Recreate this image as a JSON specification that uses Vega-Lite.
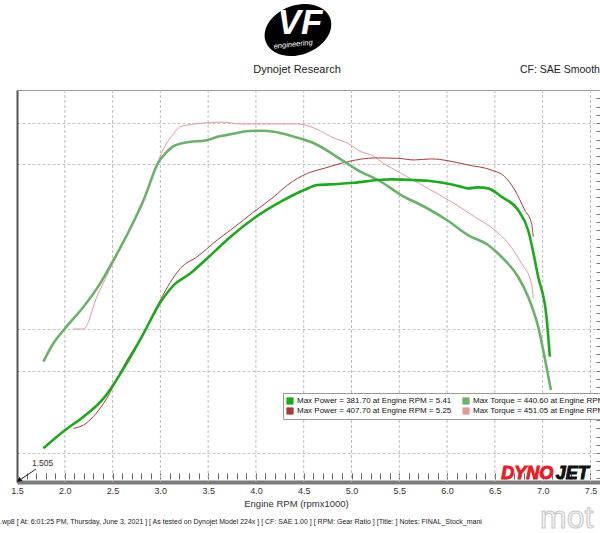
{
  "$schema": "https://vega.github.io/schema/vega-lite/v6.json",
  "width": 583,
  "height": 392,
  "autosize": "none",
  "padding": {"left": 17, "top": 90, "right": 0, "bottom": 51},
  "background": "white",
  "config": {
    "font": "Liberation Sans",
    "view": {"stroke": "#9a9a9a", "strokeWidth": 1}
  },
  "resolve": {"axis": {"x": "independent", "y": "independent"}},
  "datasets": {
    "gridx": [{"g": 2.0}, {"g": 2.5}, {"g": 3.0}, {"g": 3.5}, {"g": 4.0}, {"g": 4.5}, {"g": 5.0}, {"g": 5.5}, {"g": 6.0}, {"g": 6.5}, {"g": 7.0}, {"g": 7.5}],
    "curves": [
      {"s": "RT", "rpm": 2.091, "v": 200.3}, {"s": "RT", "rpm": 2.196, "v": 200.3}, {"s": "RT", "rpm": 2.336, "v": 239.5}, {"s": "RT", "rpm": 2.51, "v": 281.5},
      {"s": "RT", "rpm": 2.686, "v": 321.5}, {"s": "RT", "rpm": 2.825, "v": 356}, {"s": "RT", "rpm": 2.983, "v": 405.2}, {"s": "RT", "rpm": 3.035, "v": 419.3},
      {"s": "RT", "rpm": 3.12, "v": 434}, {"s": "RT", "rpm": 3.21, "v": 445.5}, {"s": "RT", "rpm": 3.42, "v": 449.6}, {"s": "RT", "rpm": 3.65, "v": 451.05},
      {"s": "RT", "rpm": 3.84, "v": 448.8}, {"s": "RT", "rpm": 4.084, "v": 448.8}, {"s": "RT", "rpm": 4.435, "v": 448.8}, {"s": "RT", "rpm": 4.574, "v": 445.5},
      {"s": "RT", "rpm": 4.68, "v": 440}, {"s": "RT", "rpm": 4.784, "v": 433.4}, {"s": "RT", "rpm": 4.994, "v": 423.3}, {"s": "RT", "rpm": 5.065, "v": 417.3},
      {"s": "RT", "rpm": 5.239, "v": 409.2}, {"s": "RT", "rpm": 5.309, "v": 403.1}, {"s": "RT", "rpm": 5.519, "v": 389.0}, {"s": "RT", "rpm": 5.799, "v": 370.8},
      {"s": "RT", "rpm": 6.044, "v": 354.6}, {"s": "RT", "rpm": 6.288, "v": 336.4}, {"s": "RT", "rpm": 6.498, "v": 320.3}, {"s": "RT", "rpm": 6.639, "v": 304.2},
      {"s": "RT", "rpm": 6.778, "v": 280.0}, {"s": "RT", "rpm": 6.883, "v": 255.7}, {"s": "RT", "rpm": 6.901, "v": 237.5},
      {"s": "RP", "rpm": 2.091, "v": 79.9}, {"s": "RP", "rpm": 2.196, "v": 83.9}, {"s": "RP", "rpm": 2.406, "v": 110.2}, {"s": "RP", "rpm": 2.651, "v": 162.7},
      {"s": "RP", "rpm": 2.825, "v": 195.1}, {"s": "RP", "rpm": 3.0, "v": 235.5}, {"s": "RP", "rpm": 3.105, "v": 257}, {"s": "RP", "rpm": 3.21, "v": 273.9},
      {"s": "RP", "rpm": 3.386, "v": 288.0}, {"s": "RP", "rpm": 3.596, "v": 308.2}, {"s": "RP", "rpm": 3.735, "v": 320.3}, {"s": "RP", "rpm": 3.98, "v": 342.5},
      {"s": "RP", "rpm": 4.189, "v": 360.7}, {"s": "RP", "rpm": 4.33, "v": 374.8}, {"s": "RP", "rpm": 4.54, "v": 389.0}, {"s": "RP", "rpm": 4.714, "v": 395.1},
      {"s": "RP", "rpm": 4.96, "v": 403.1}, {"s": "RP", "rpm": 5.25, "v": 407.7}, {"s": "RP", "rpm": 5.484, "v": 407.2}, {"s": "RP", "rpm": 5.658, "v": 405.2},
      {"s": "RP", "rpm": 5.834, "v": 406.5}, {"s": "RP", "rpm": 6.009, "v": 404.3}, {"s": "RP", "rpm": 6.219, "v": 399.1}, {"s": "RP", "rpm": 6.463, "v": 393.0},
      {"s": "RP", "rpm": 6.603, "v": 384.9}, {"s": "RP", "rpm": 6.708, "v": 368.8}, {"s": "RP", "rpm": 6.813, "v": 344.5}, {"s": "RP", "rpm": 6.883, "v": 328.4},
      {"s": "RP", "rpm": 6.901, "v": 312.2},
      {"s": "GT", "rpm": 1.776, "v": 160.7}, {"s": "GT", "rpm": 1.881, "v": 183.0}, {"s": "GT", "rpm": 2.004, "v": 201.2}, {"s": "GT", "rpm": 2.196, "v": 227.3},
      {"s": "GT", "rpm": 2.371, "v": 255.7}, {"s": "GT", "rpm": 2.51, "v": 283.9}, {"s": "GT", "rpm": 2.686, "v": 322.4}, {"s": "GT", "rpm": 2.825, "v": 356.7},
      {"s": "GT", "rpm": 2.983, "v": 403.1}, {"s": "GT", "rpm": 3.06, "v": 414}, {"s": "GT", "rpm": 3.14, "v": 422.1}, {"s": "GT", "rpm": 3.315, "v": 427.3},
      {"s": "GT", "rpm": 3.455, "v": 428.5}, {"s": "GT", "rpm": 3.63, "v": 434.2}, {"s": "GT", "rpm": 3.735, "v": 436.3}, {"s": "GT", "rpm": 3.927, "v": 440.3},
      {"s": "GT", "rpm": 4.05, "v": 440.6}, {"s": "GT", "rpm": 4.189, "v": 439.5}, {"s": "GT", "rpm": 4.399, "v": 433.4}, {"s": "GT", "rpm": 4.609, "v": 425.4},
      {"s": "GT", "rpm": 4.819, "v": 411.2}, {"s": "GT", "rpm": 5.065, "v": 393.0}, {"s": "GT", "rpm": 5.309, "v": 378.8}, {"s": "GT", "rpm": 5.519, "v": 362.7},
      {"s": "GT", "rpm": 5.763, "v": 348.5}, {"s": "GT", "rpm": 6.009, "v": 331.5}, {"s": "GT", "rpm": 6.219, "v": 314.2}, {"s": "GT", "rpm": 6.429, "v": 302.1},
      {"s": "GT", "rpm": 6.568, "v": 287.9}, {"s": "GT", "rpm": 6.743, "v": 263.7}, {"s": "GT", "rpm": 6.848, "v": 239.5}, {"s": "GT", "rpm": 6.953, "v": 203.1},
      {"s": "GT", "rpm": 7.04, "v": 154.6}, {"s": "GT", "rpm": 7.086, "v": 126.4},
      {"s": "GP", "rpm": 1.776, "v": 55.7}, {"s": "GP", "rpm": 2.004, "v": 77.9}, {"s": "GP", "rpm": 2.196, "v": 94.0}, {"s": "GP", "rpm": 2.406, "v": 116.3},
      {"s": "GP", "rpm": 2.668, "v": 162.7}, {"s": "GP", "rpm": 2.825, "v": 195.1}, {"s": "GP", "rpm": 2.983, "v": 229.4}, {"s": "GP", "rpm": 3.14, "v": 253.6},
      {"s": "GP", "rpm": 3.315, "v": 267.8}, {"s": "GP", "rpm": 3.491, "v": 286.0}, {"s": "GP", "rpm": 3.735, "v": 312.2}, {"s": "GP", "rpm": 3.98, "v": 334.5},
      {"s": "GP", "rpm": 4.26, "v": 354.6}, {"s": "GP", "rpm": 4.504, "v": 368.8}, {"s": "GP", "rpm": 4.645, "v": 374.8}, {"s": "GP", "rpm": 4.855, "v": 376.1},
      {"s": "GP", "rpm": 5.029, "v": 377.6}, {"s": "GP", "rpm": 5.309, "v": 381.2}, {"s": "GP", "rpm": 5.41, "v": 381.7}, {"s": "GP", "rpm": 5.624, "v": 381.0},
      {"s": "GP", "rpm": 5.8, "v": 380.0}, {"s": "GP", "rpm": 5.97, "v": 377.2}, {"s": "GP", "rpm": 6.12, "v": 373.5}, {"s": "GP", "rpm": 6.219, "v": 370.8},
      {"s": "GP", "rpm": 6.324, "v": 372.0}, {"s": "GP", "rpm": 6.429, "v": 370.8}, {"s": "GP", "rpm": 6.568, "v": 360.7}, {"s": "GP", "rpm": 6.743, "v": 344.5},
      {"s": "GP", "rpm": 6.848, "v": 320.3}, {"s": "GP", "rpm": 6.953, "v": 263.7}, {"s": "GP", "rpm": 7.04, "v": 215.2}, {"s": "GP", "rpm": 7.075, "v": 166.7}
    ]
  },
  "layer": [
    {
      "data": {"name": "gridx"},
      "mark": {"type": "rule", "color": "#bdbdbd", "strokeWidth": 1, "strokeDash": [3, 2]},
      "encoding": {
        "x": {"field": "g", "type": "quantitative", "axis": null}
      }
    },
    {
      "data": {"values": [{}]},
      "mark": {"type": "rule", "opacity": 0},
      "encoding": {
        "x": {
          "datum": 1.5, "type": "quantitative",
          "axis": {
            "orient": "bottom", "title": null, "labels": false, "grid": false, "domain": false,
            "tickCount": 200,
            "values": [1.6,1.7,1.8,1.9,2.0,2.1,2.2,2.3,2.4,2.5,2.6,2.7,2.8,2.9,3.0,3.1,3.2,3.3,3.4,3.5,3.6,3.7,3.8,3.9,4.0,4.1,4.2,4.3,4.4,4.5,4.6,4.7,4.8,4.9,5.0,5.1,5.2,5.3,5.4,5.5,5.6,5.7,5.8,5.9,6.0,6.1,6.2,6.3,6.4,6.5,6.6,6.7,6.8,6.9,7.0,7.1,7.2,7.3,7.4,7.5,7.6],
            "tickSize": -6, "tickColor": "#666", "tickWidth": 1, "tickOpacity": 1, "ticks": true, "offset": -3
          }
        }
      }
    },
    {
      "data": {"values": [{}]},
      "mark": {"type": "rule", "opacity": 0},
      "encoding": {
        "y": {
          "datum": 20, "type": "quantitative",
          "axis": {
            "orient": "right", "title": null, "labels": false, "grid": false, "domain": false,
            "tickCount": 200,
            "values": [20,30,40,50,60,70,80,90,100,110,120,130,140,150,160,170,180,190,200,210,220,230,240,250,260,270,280,290,300,310,320,330,340,350,360,370,380,390,400,410,420,430,440,450,460,470,480],
            "tickSize": -4, "tickColor": "#777", "tickWidth": 1, "ticks": true
          }
        }
      }
    },
    {
      "data": {"name": "curves"},
      "encoding": {
        "x": {
          "field": "rpm", "type": "quantitative",
          "scale": {"domain": [1.5, 7.6], "nice": false, "zero": false},
          "axis": {
            "orient": "bottom",
            "title": "Engine RPM (rpmx1000)", "titleX": 279,
            "titleFontSize": 9.5, "titleFontWeight": "normal", "titleColor": "#333", "titlePadding": 3,
            "values": [1.5,2.0,2.5,3.0,3.5,4.0,4.5,5.0,5.5,6.0,6.5,7.0,7.5],
            "format": ".1f",
            "labelOverlap": false, "labelBound": false, "labelFlush": false,
            "labelFontSize": 9, "labelColor": "#333", "labelPadding": 4,
            "ticks": false, "grid": false,
            "domainColor": "#7a7a7a", "domainWidth": 4
          }
        },
        "y": {
          "field": "v", "type": "quantitative",
          "scale": {"domain": [14.9, 490], "nice": false, "zero": false},
          "axis": {
            "orient": "left",
            "title": null, "labels": false, "ticks": false,
            "values": [50, 150, 200, 400, 450],
            "domainColor": "#555", "domainWidth": 2,
            "grid": true, "gridColor": "#c4c4c4", "gridDash": [3, 2]
          }
        },
        "color": {
          "field": "s", "type": "nominal",
          "scale": {"domain": ["GP", "RP", "GT", "RT"], "range": ["#1fa81f", "#a83a3a", "#6cb06c", "#e39a9a"]},
          "legend": {
            "title": null, "orient": "none", "legendX": 266, "legendY": 303,
            "columns": 2, "columnPadding": 10, "rowPadding": 0, "clipHeight": 10,
            "symbolType": "square", "symbolSize": 40, "symbolStrokeWidth": 0.8,
            "labelFontSize": 8, "labelColor": "#111", "labelOffset": 3, "labelLimit": 400,
            "labelExpr": "{'GP': 'Max Power = 381.70 at Engine RPM = 5.41', 'GT': 'Max Torque = 440.60 at Engine RPM = 4.05', 'RP': 'Max Power = 407.70 at Engine RPM = 5.25', 'RT': 'Max Torque = 451.05 at Engine RPM = 3.65'}[datum.label]",
            "fillColor": "white", "strokeColor": "#999", "padding": 3,
            "encode": {"symbols": {"update": {"fill": {"scale": "color", "field": "value"}, "stroke": {"value": "#888"}, "opacity": {"value": 1}}}}
          }
        }
      },
      "layer": [
        {
          "transform": [{"filter": "datum.s === 'RP' || datum.s === 'RT'"}],
          "mark": {"type": "line", "interpolate": "monotone", "strokeWidth": 1}
        },
        {
          "transform": [{"filter": "datum.s === 'GP' || datum.s === 'GT'"}],
          "mark": {"type": "line", "interpolate": "monotone", "strokeWidth": 2.6}
        }
      ]
    },
    {
      "data": {"values": [{}]},
      "mark": {"type": "point", "shape": "M -1 0 A 1 0.72 0 1 0 1 0 A 1 0.72 0 1 0 -1 0 Z", "filled": true, "color": "#000", "opacity": 1, "angle": -20, "size": 4700},
      "encoding": {"x": {"datum": 4.44, "axis": null}, "y": {"datum": 562.7, "axis": null}}
    },
    {
      "data": {"values": [{}]},
      "mark": {"type": "text", "text": "VF", "fontSize": 35, "fontWeight": "bold", "fontStyle": "italic", "color": "white", "align": "center", "baseline": "middle"},
      "encoding": {"x": {"datum": 4.46, "axis": null}, "y": {"datum": 571, "axis": null}}
    },
    {
      "data": {"values": [{}]},
      "mark": {"type": "text", "text": "engineering", "fontSize": 7.5, "fontStyle": "italic", "color": "white", "align": "center", "baseline": "middle", "angle": -6},
      "encoding": {"x": {"datum": 4.39, "axis": null}, "y": {"datum": 545, "axis": null}}
    },
    {
      "data": {"values": [{}]},
      "mark": {"type": "text", "text": "Dynojet Research", "fontSize": 11, "color": "#222", "align": "center", "baseline": "middle"},
      "encoding": {"x": {"datum": 4.43, "axis": null}, "y": {"datum": 514.2, "axis": null}}
    },
    {
      "data": {"values": [{}]},
      "mark": {"type": "text", "text": "CF: SAE Smooth", "fontSize": 10.5, "color": "#222", "align": "left", "baseline": "middle"},
      "encoding": {"x": {"datum": 6.763, "axis": null}, "y": {"datum": 514.2, "axis": null}}
    },
    {
      "data": {"values": [{}]},
      "mark": {"type": "text", "text": "1.505", "fontSize": 8.5, "color": "#333", "align": "left", "baseline": "middle"},
      "encoding": {"x": {"datum": 1.657, "axis": null}, "y": {"datum": 37.9, "axis": null}}
    },
    {
      "data": {"values": [{}]},
      "mark": {"type": "rule", "color": "#222", "strokeWidth": 1},
      "encoding": {"x": {"datum": 1.699, "axis": null}, "y": {"datum": 30.6, "axis": null}, "x2": {"datum": 1.535}, "y2": {"datum": 17.8}}
    },
    {
      "data": {"values": [{}]},
      "mark": {"type": "point", "shape": "triangle", "filled": true, "color": "#111", "opacity": 1, "size": 30, "angle": 232},
      "encoding": {"x": {"datum": 1.528, "axis": null}, "y": {"datum": 17.6, "axis": null}}
    },
    {
      "data": {"values": [{}]},
      "mark": {"type": "text", "text": "DYNO", "fontSize": 18, "fontWeight": "bold", "fontStyle": "italic", "color": "#e3202a", "stroke": "#e3202a", "strokeWidth": 1, "align": "right", "baseline": "alphabetic"},
      "encoding": {"x": {"datum": 7.112, "axis": null}, "y": {"datum": 18.5, "axis": null}}
    },
    {
      "data": {"values": [{}]},
      "mark": {"type": "text", "text": "JET", "fontSize": 18, "fontWeight": "bold", "fontStyle": "italic", "color": "#111", "stroke": "#111", "strokeWidth": 1, "align": "left", "baseline": "alphabetic"},
      "encoding": {"x": {"datum": 7.137, "axis": null}, "y": {"datum": 18.5, "axis": null}}
    },
    {
      "data": {"values": [{}]},
      "mark": {"type": "text", "text": "mot", "fontSize": 32, "color": "#f4f4f4", "stroke": "#c8c8c8", "strokeWidth": 1, "align": "left", "baseline": "alphabetic"},
      "encoding": {"x": {"datum": 6.972, "axis": null}, "y": {"datum": -40.9, "axis": null}}
    },
    {
      "data": {"values": [{}]},
      "mark": {"type": "text", "text": ".wp8 [ At: 6:01:25 PM, Thursday, June 3, 2021 ] [ As tested on Dynojet Model 224x ] [ CF: SAE 1.00 ] [ RPM: Gear Ratio ] [Title: ]  Notes: FINAL_Stock_mani", "fontSize": 7, "color": "#222", "align": "left", "baseline": "middle"},
      "encoding": {"x": {"datum": 1.3216, "axis": null}, "y": {"datum": -33.6, "axis": null}}
    }
  ]
}
